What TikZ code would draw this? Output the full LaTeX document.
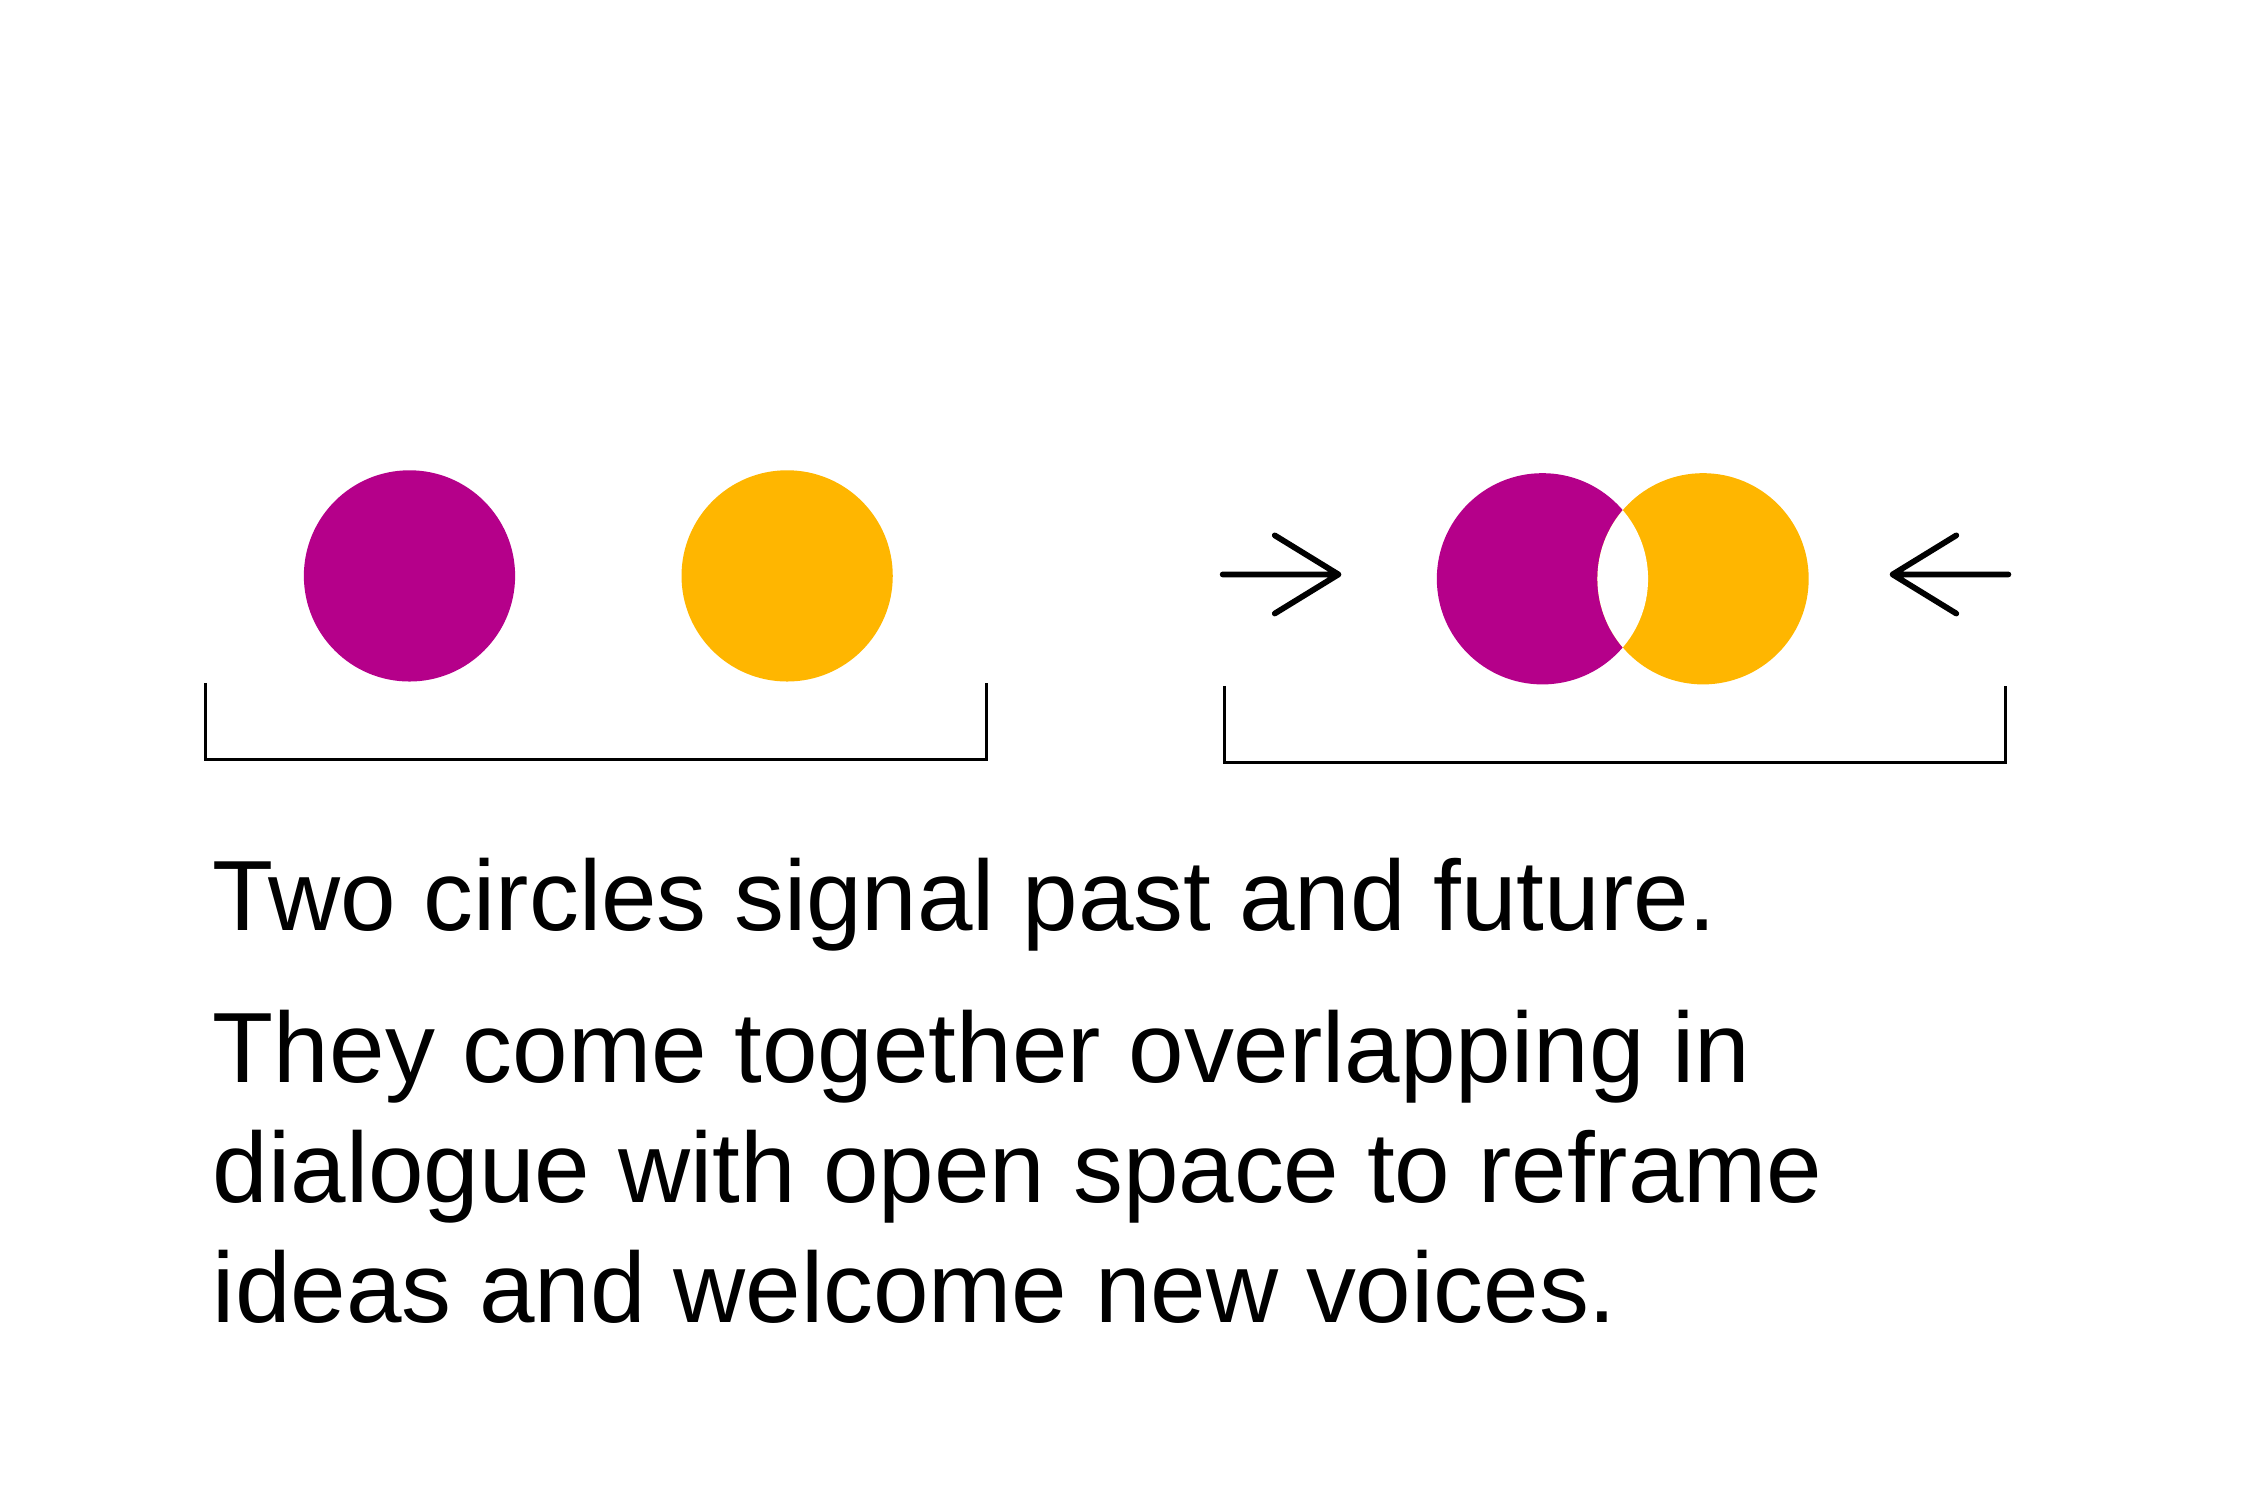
\documentclass[tikz,border=0pt]{standalone}
\usepackage{fontspec}
\setmainfont{Liberation Sans}
\definecolor{mag}{HTML}{B5008A}
\definecolor{yel}{HTML}{FFB600}
\begin{document}
\begin{tikzpicture}[x=1pt,y=-1pt,
  brk/.style={line width=2pt},
  arr/.style={line width=4pt,line cap=round,line join=round},
  txt/.style={anchor=base west,inner sep=0,font=\fontsize{69}{83}\selectfont}]
\useasboundingbox (0,0) rectangle (1555,1037);
\fill[mag] (283,398) circle (73);
\fill[yel] (544,398) circle (73);
\fill[mag] (1066,400) circle (73);
\fill[yel] (1177,400) circle (73);
\begin{scope}
\clip (1066,400) circle (73);
\fill[white] (1177,400) circle (73);
\end{scope}
\coordinate (a1) at (142,472); \coordinate (a2) at (142,525);
\coordinate (a3) at (682,525); \coordinate (a4) at (682,472);
\draw[brk] (a1) -- (a2) -- (a3) -- (a4);
\coordinate (b1) at (846,474); \coordinate (b2) at (846,527);
\coordinate (b3) at (1386,527); \coordinate (b4) at (1386,474);
\draw[brk] (b1) -- (b2) -- (b3) -- (b4);
\coordinate (r0) at (845,397); \coordinate (r1) at (925,397);
\draw[arr] (r0) -- (r1) (881,370) -- (r1) -- (881,424);
\coordinate (l0) at (1388,397); \coordinate (l1) at (1308,397);
\draw[arr] (l0) -- (l1) (1352,370) -- (l1) -- (1352,424);
\node[txt] (t1) at (147,643) {Two circles signal past and future.};
\node[txt] (t2) at (147,748) {They come together overlapping in};
\node[txt] (t3) at (147,831) {dialogue with open space to reframe};
\node[txt] (t4) at (147,914) {ideas and welcome new voices.};
\end{tikzpicture}
\end{document}
